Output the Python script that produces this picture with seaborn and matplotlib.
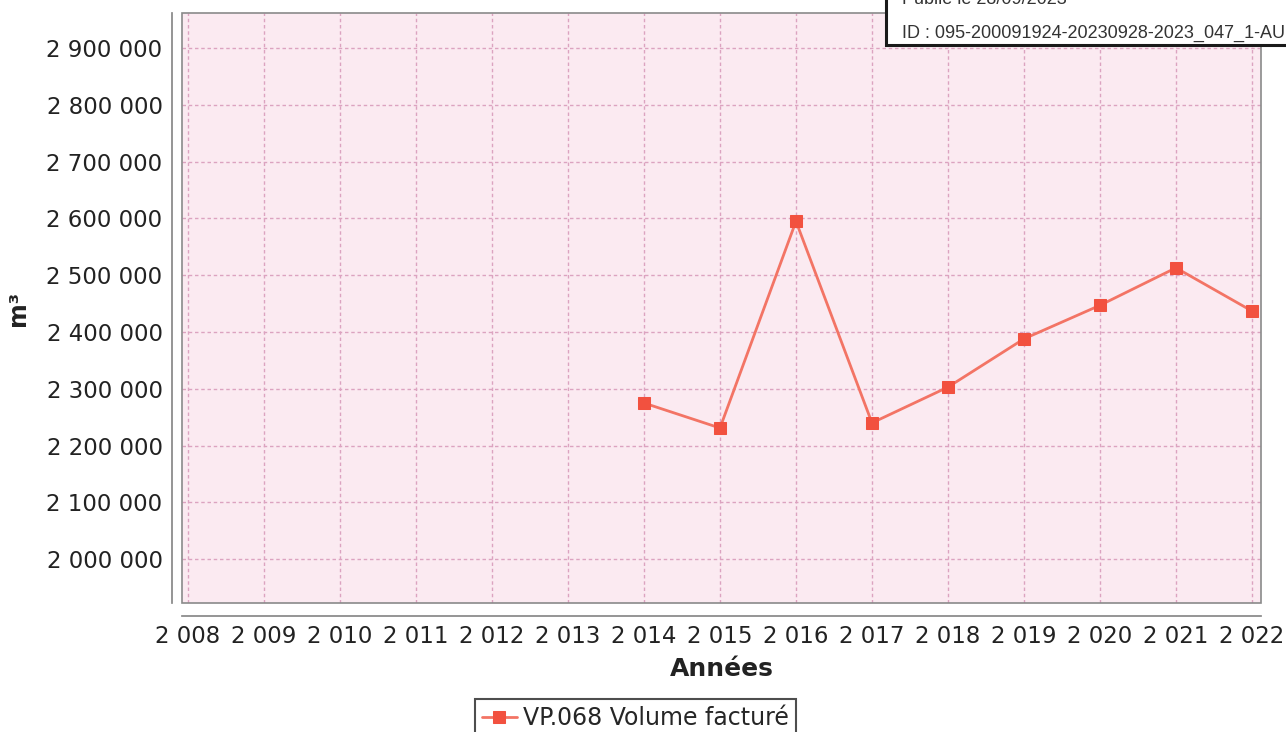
#!/usr/bin/env python3
"""
Recreate the VP.068 billed volume line chart (scanned JFreeChart style).
"""
import matplotlib
matplotlib.use("Agg")
import matplotlib.pyplot as plt
from matplotlib.patches import Rectangle
from matplotlib.ticker import FixedLocator, FuncFormatter
import pandas as pd
import seaborn as sns

# Data
years = [2014, 2015, 2016, 2017, 2018, 2019, 2020, 2021, 2022]
volumes = [2275000, 2231000, 2595000, 2240000, 2303000, 2388000, 2447000, 2513000, 2437000]
series_label = "VP.068 Volume facturé"
x_ticks = list(range(2008, 2023))
y_ticks = [2000000, 2100000, 2200000, 2300000, 2400000, 2500000, 2600000, 2700000, 2800000, 2900000]
stamp_lines = ["Publié le 28/09/2023", "ID : 095-200091924-20230928-2023_047_1-AU"]

sns.set_theme(style="white")
plt.rcParams['font.family'] = ['DejaVu Sans']

df = pd.DataFrame({"Années": years, "m³": volumes})

fig = plt.figure(figsize=(12.86, 7.32), dpi=100)
ax = fig.add_axes([0.1415, 0.1762, 0.8391, 0.806])
ax.set_facecolor('#fbeaf1')

sns.lineplot(data=df, x="Années", y="m³", ax=ax, color='#f37465', linewidth=2,
             marker='s', markersize=9, markerfacecolor='#f2513f', markeredgecolor='#f2513f',
             label=series_label, legend=False)

ax.set_xlim(2007.92, 2022.12)
ax.set_ylim(1922900, 2961600)

fmt = FuncFormatter(lambda v, p: f"{int(round(v)):,}".replace(",", " "))
ax.xaxis.set_major_locator(FixedLocator(x_ticks))
ax.yaxis.set_major_locator(FixedLocator(y_ticks))
ax.xaxis.set_major_formatter(fmt)
ax.yaxis.set_major_formatter(fmt)

ax.grid(True, color='#dca3c0', linestyle=(0, (2.5, 2)), linewidth=1)
ax.tick_params(axis='both', which='major', labelsize=16.5, colors='#888888',
               labelcolor='#222222', length=4, width=1, direction='out', pad=3)

# Offset axis lines like the original renderer
for side in ['top', 'right']:
    ax.spines[side].set_visible(False)
ax.spines['left'].set_position(('outward', 7))
ax.spines['bottom'].set_position(('outward', 9))
ax.spines['left'].set_color('#888888')
ax.spines['bottom'].set_color('#888888')
ax.add_patch(Rectangle((0, 0), 1, 1, transform=ax.transAxes, fill=False,
                       edgecolor='#8a8a8a', linewidth=1.2, zorder=5, clip_on=False))

ax.set_xlabel("Années", fontsize=18, fontweight='bold', color='#222222', labelpad=6)
ax.set_ylabel("m³", fontsize=17, fontweight='bold', color='#222222', labelpad=12)

handles, labels = ax.get_legend_handles_labels()
leg = fig.legend(handles, labels, loc='upper center', bbox_to_anchor=(0.494, 0.045),
                 fontsize=17, frameon=True, fancybox=False, handlelength=1.5,
                 handletextpad=0.25, borderpad=0.3, borderaxespad=0)
leg.get_frame().set_edgecolor('#222222')
leg.get_frame().set_linewidth(1.5)

# Stamp overlay in the top right corner
fig.patches.append(Rectangle((886 / 1286, (732 - 45) / 732), 0.4, 0.1,
                             transform=fig.transFigure, facecolor='white',
                             edgecolor='#1a1a1a', linewidth=2.2, zorder=10))
fig.text(902 / 1286, 1.0, stamp_lines[0], fontsize=13, family='Liberation Sans',
         color='#333333', va='center', ha='left', zorder=11)
fig.text(902 / 1286, (732 - 33) / 732, stamp_lines[1], fontsize=13, family='Liberation Sans',
         color='#333333', va='center', ha='left', zorder=11)

fig.savefig("out.png", dpi=100)
plt.close(fig)
